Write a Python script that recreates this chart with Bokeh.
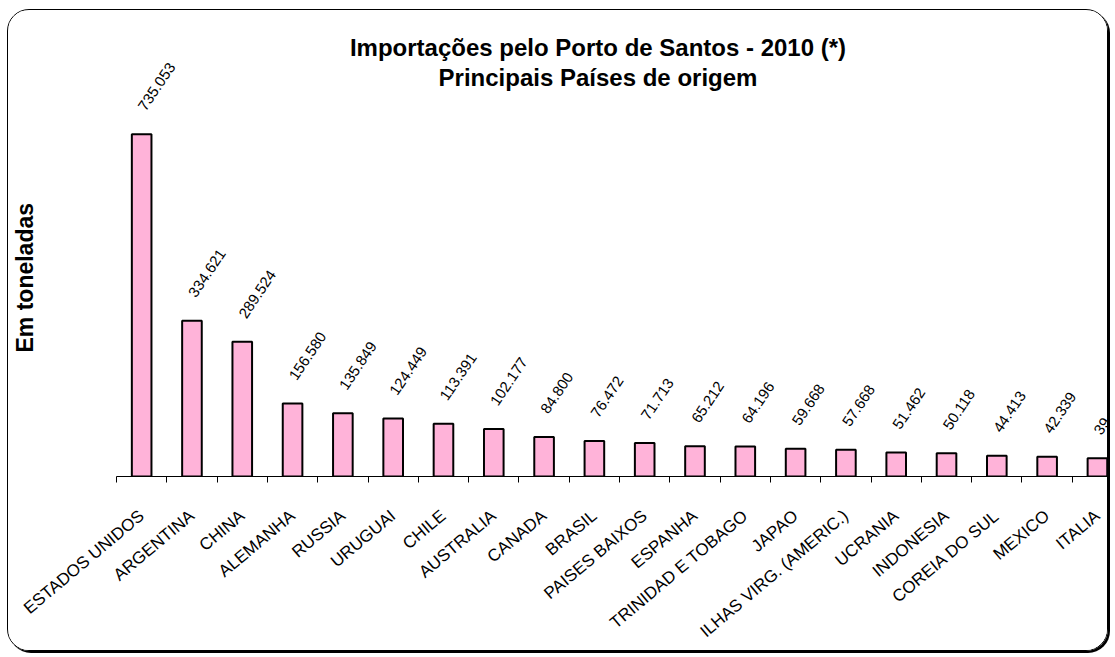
import math
from bokeh.plotting import figure
from bokeh.models import Range1d, FixedTicker, Label, Title
from bokeh.core.properties import value
from bokeh.embed import file_html
from bokeh.resources import INLINE

countries = ["ESTADOS UNIDOS", "ARGENTINA", "CHINA", "ALEMANHA", "RUSSIA", "URUGUAI",
             "CHILE", "AUSTRALIA", "CANADA", "BRASIL", "PAISES BAIXOS", "ESPANHA",
             "TRINIDAD E TOBAGO", "JAPAO", "ILHAS VIRG. (AMERIC.)", "UCRANIA",
             "INDONESIA", "COREIA DO SUL", "MEXICO", "ITALIA"]
tons = [735053, 334621, 289524, 156580, 135849, 124449, 113391, 102177, 84800, 76472,
        71713, 65212, 64196, 59668, 57668, 51462, 50118, 44413, 42339, 39436]
title_1 = "Importações pelo Porto de Santos - 2010 (*)"
title_2 = "Principais Países de origem"
y_label = "Em toneladas"

FONT = "Liberation Sans"
idx = list(range(len(countries)))
labels = [f"{v:,}".replace(",", ".") for v in tons]

p = figure(width=1101, height=642, output_backend="svg", toolbar_location=None,
           x_range=Range1d(-0.5, 19.24), y_range=Range1d(0, 979000),
           min_border_left=108, min_border_right=0, min_border_top=10,
           min_border_bottom=176)
p.styles = {"border": "1.5px solid #000", "border-radius": "22px",
            "box-shadow": "2px 2px 0 #000", "overflow": "hidden",
            "margin-left": "7px", "margin-top": "9px"}
p.outline_line_color = None
p.grid.visible = False
p.background_fill_color = "white"
p.border_fill_color = "white"

p.vbar(x=idx, top=tons, width=0.39, bottom=0, fill_color="#FFB3D9",
       line_color="black", line_width=2)

p.text(x=idx, y=tons, text=labels, angle=math.radians(56), text_align="left",
       text_baseline="middle", x_offset=0, y_offset=-25,
       text_font=value(FONT), text_font_size="15px", text_color="black")

xa = p.xaxis[0]
xa.ticker = FixedTicker(ticks=idx, minor_ticks=[i - 0.5 for i in range(len(countries) + 1)])
xa.major_label_overrides = {i: c for i, c in zip(idx, countries)}
xa.major_tick_line_color = None
xa.minor_tick_line_color = "black"
xa.minor_tick_in = 0
xa.minor_tick_out = 6
xa.axis_line_color = "black"
xa.axis_line_width = 1
xa.major_label_orientation = math.radians(40)
xa.major_label_standoff = 31
xa.major_label_text_font = FONT
xa.major_label_text_font_size = "17px"
xa.major_label_text_color = "black"

ya = p.yaxis[0]
ya.ticker = FixedTicker(ticks=[])
ya.axis_line_color = None
ya.major_tick_line_color = None
ya.minor_tick_line_color = None
ya.axis_label = " "
ya.axis_label_text_font_size = "1px"
ya.axis_label_standoff = 75

p.add_layout(Title(text=y_label, align="left", offset=124, standoff=0,
                   vertical_align="bottom",
                   text_font=FONT, text_font_style="bold", text_font_size="23px",
                   text_color="black"), "left")

for txt, yy in [(title_1, 429), (title_2, 399)]:
    p.add_layout(Label(x=481.5, y=yy, x_units="screen", y_units="screen", text=txt,
                       text_align="center", text_baseline="alphabetic",
                       text_font=FONT, text_font_style="bold",
                       text_font_size="24px", text_color="black"))

open("out.html", "w").write(file_html(p, INLINE))
